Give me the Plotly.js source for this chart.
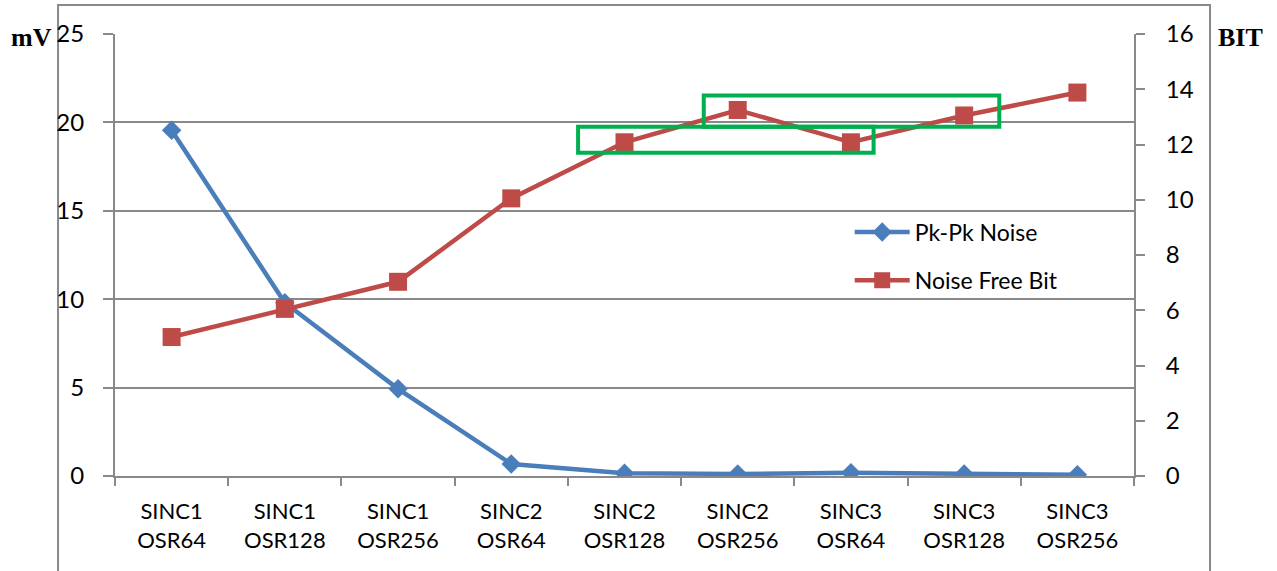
<!DOCTYPE html>
<html>
<head>
<meta charset="utf-8">
<script src="https://cdn.plot.ly/plotly-3.0.1.min.js"></script>
<style>
  html, body { margin: 0; padding: 0; background: #ffffff; }
  #chart { width: 1277px; height: 571px; }
</style>
</head>
<body>
<div id="chart"></div>
<script>
// ---- data ----
const categories = [
  "SINC1<br>OSR64", "SINC1<br>OSR128", "SINC1<br>OSR256",
  "SINC2<br>OSR64", "SINC2<br>OSR128", "SINC2<br>OSR256",
  "SINC3<br>OSR64", "SINC3<br>OSR128", "SINC3<br>OSR256"
];
const pkPkNoise = [19.55, 9.8, 4.93, 0.68, 0.15, 0.12, 0.18, 0.12, 0.07];
const noiseFreeBit = [5.03, 6.05, 7.03, 10.05, 12.08, 13.25, 12.08, 13.05, 13.88];
const leftTicks = [0, 5, 10, 15, 20, 25];
const rightTicks = [0, 2, 4, 6, 8, 10, 12, 14, 16];

const gray = "#898989";
const blue = "#4a7ebb";
const red = "#be4b48";
const green = "#00b050";
const tickFont = { family: "Lato, 'Open Sans', sans-serif", size: 24, color: "#000000" };
const xTickFont = { family: "Lato, 'Open Sans', sans-serif", size: 22, color: "#000000" };

const traces = [
  {
    x: categories, y: pkPkNoise, name: "Pk-Pk Noise", type: "scatter", mode: "lines+markers",
    line: { color: blue, width: 4.5 },
    marker: { symbol: "diamond", size: 15, color: blue },
    yaxis: "y", legend: "legend"
  },
  {
    x: categories, y: noiseFreeBit, name: "Noise Free Bit", type: "scatter", mode: "lines+markers",
    line: { color: red, width: 4.5 },
    marker: { symbol: "square", size: 18, color: red },
    yaxis: "y2", legend: "legend2"
  }
];

const legendFont = { family: "Lato, 'Open Sans', sans-serif", size: 23, color: "#000000" };

const layout = {
  width: 1277, height: 571,
  margin: { l: 115, r: 143, t: 34, b: 95 },
  paper_bgcolor: "#ffffff", plot_bgcolor: "#ffffff",
  showlegend: true,
  xaxis: {
    type: "category",
    tickfont: xTickFont,
    showline: true, linecolor: gray, linewidth: 2,
    ticks: "outside", tickson: "boundaries", ticklen: 8, tickcolor: gray, tickwidth: 2,
    showgrid: false, zeroline: false,
    range: [-0.5, 8.5],
    ticklabelstandoff: 15
  },
  yaxis: {
    range: [0, 25], tickvals: leftTicks,
    tickfont: tickFont,
    showline: true, linecolor: gray, linewidth: 2,
    ticks: "outside", ticklen: 10, tickcolor: gray, tickwidth: 2,
    showgrid: true, gridcolor: gray, gridwidth: 2, zeroline: false,
    ticklabelstandoff: 14
  },
  yaxis2: {
    range: [0, 16], tickvals: rightTicks,
    overlaying: "y", side: "right",
    tickfont: tickFont,
    showline: true, linecolor: gray, linewidth: 2,
    ticks: "outside", ticklen: 9, tickcolor: gray, tickwidth: 2,
    showgrid: false, zeroline: false,
    ticklabelstandoff: 16
  },
  legend: {
    x: 0.721, y: 0.552, xanchor: "left", yanchor: "middle",
    font: legendFont, bgcolor: "rgba(0,0,0,0)", itemwidth: 55
  },
  legend2: {
    x: 0.721, y: 0.443, xanchor: "left", yanchor: "middle",
    font: legendFont, bgcolor: "rgba(0,0,0,0)", itemwidth: 55
  },
  shapes: [
    { type: "rect", xref: "paper", yref: "paper", x0: -0.0559, x1: 1.0746, y0: -0.3, y1: 1.0656,
      line: { color: gray, width: 2 }, fillcolor: "rgba(0,0,0,0)", layer: "below" },
    { type: "rect", xref: "x", yref: "y2", x0: 3.59, x1: 6.20, y0: 11.70, y1: 12.64,
      line: { color: green, width: 4 }, fillcolor: "rgba(0,0,0,0)" },
    { type: "rect", xref: "x", yref: "y2", x0: 4.70, x1: 7.31, y0: 12.64, y1: 13.77,
      line: { color: green, width: 4 }, fillcolor: "rgba(0,0,0,0)" }
  ],
  annotations: [
    { text: "<b>mV</b>", xref: "paper", yref: "paper", x: -0.0815, y: 0.991,
      xanchor: "center", yanchor: "middle", showarrow: false,
      font: { family: "'Liberation Serif', 'Times New Roman', serif", size: 26, color: "#000000" } },
    { text: "<b>BIT</b>", xref: "paper", yref: "paper", x: 1.105, y: 0.991,
      xanchor: "center", yanchor: "middle", showarrow: false,
      font: { family: "'Liberation Serif', 'Times New Roman', serif", size: 26, color: "#000000" } }
  ]
};

Plotly.newPlot("chart", traces, layout, { displayModeBar: false, staticPlot: true });
</script>
</body>
</html>
